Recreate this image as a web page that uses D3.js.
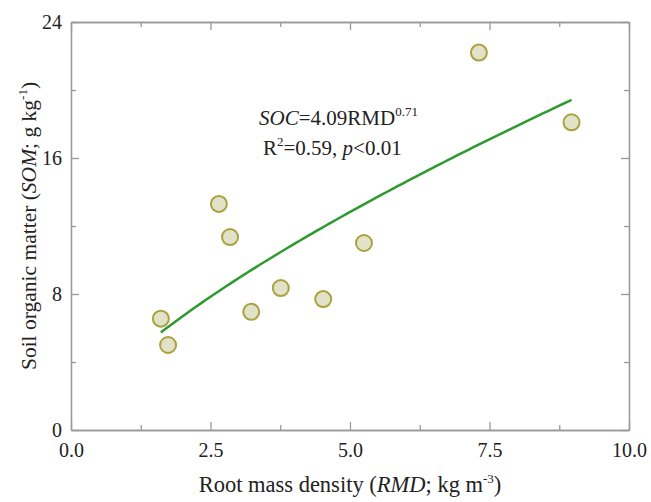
<!DOCTYPE html>
<html>
<head>
<meta charset="utf-8">
<script src="https://cdn.jsdelivr.net/npm/d3@7"></script>
<style>
  body { margin: 0; background: #fff; }
  svg text { font-family: "Liberation Serif", "DejaVu Serif", serif; fill: #222; }
  .axis path, .axis line { stroke: #999; stroke-width: 1.3; }
</style>
</head>
<body>
<svg id="chart" width="651" height="502"></svg>
<script>
// Observed data: root mass density vs soil organic matter
const rmd = [1.61, 1.74, 2.65, 2.85, 3.23, 3.76, 4.52, 5.25, 7.31, 8.97];
const som = [6.55, 5.0, 13.3, 11.35, 6.95, 8.35, 7.7, 11.0, 22.2, 18.1];

// Power fit SOC = a * RMD^b
const fitA = 4.09;
const fitB = 0.71;
const fitRange = [1.61, 8.97];

const xTicks = [0, 2.5, 5, 7.5, 10];
const xMinor = [1.25, 3.75, 6.25, 8.75];
const yTicks = [0, 8, 16, 24];
const yMinor = [4, 12, 20];

const svg = d3.select("#chart");
const margin = {top: 22, right: 22, bottom: 72, left: 71};
const width = +svg.attr("width") - margin.left - margin.right;
const height = +svg.attr("height") - margin.top - margin.bottom;

const g = svg.append("g")
    .attr("transform", "translate(" + margin.left + "," + margin.top + ")");

const x = d3.scaleLinear().domain([0, 10]).range([0, width]);
const y = d3.scaleLinear().domain([0, 24]).range([height, 0]);

// major axes (ticks inward)
g.append("g").attr("class", "axis")
    .attr("transform", "translate(0," + height + ")")
    .call(d3.axisBottom(x).tickValues(xTicks).tickSizeInner(-8).tickSizeOuter(0)
        .tickPadding(13).tickFormat(d3.format(".1f")));
g.append("g").attr("class", "axis")
    .call(d3.axisLeft(y).tickValues(yTicks).tickSizeInner(-8).tickSizeOuter(0)
        .tickPadding(9));
g.append("g").attr("class", "axis")
    .call(d3.axisTop(x).tickValues(xTicks).tickSizeInner(-8).tickSizeOuter(0).tickFormat(""));
g.append("g").attr("class", "axis")
    .attr("transform", "translate(" + width + ",0)")
    .call(d3.axisRight(y).tickValues(yTicks).tickSizeInner(-8).tickSizeOuter(0).tickFormat(""));

// minor ticks
g.append("g").attr("class", "axis")
    .attr("transform", "translate(0," + height + ")")
    .call(d3.axisBottom(x).tickValues(xMinor).tickSizeInner(-5).tickSizeOuter(0).tickFormat(""));
g.append("g").attr("class", "axis")
    .call(d3.axisTop(x).tickValues(xMinor).tickSizeInner(-5).tickSizeOuter(0).tickFormat(""));
g.append("g").attr("class", "axis")
    .call(d3.axisLeft(y).tickValues(yMinor).tickSizeInner(-5).tickSizeOuter(0).tickFormat(""));
g.append("g").attr("class", "axis")
    .attr("transform", "translate(" + width + ",0)")
    .call(d3.axisRight(y).tickValues(yMinor).tickSizeInner(-5).tickSizeOuter(0).tickFormat(""));

g.selectAll(".axis text").style("font-size", "20px").attr("fill", "#222");

// fitted curve
const fitX = d3.range(0, 101).map(i => fitRange[0] + (fitRange[1] - fitRange[0]) * i / 100);
const line = d3.line()
    .x(d => x(d))
    .y(d => y(fitA * Math.pow(d, fitB)));
g.append("path")
    .datum(fitX)
    .attr("d", line)
    .attr("fill", "none")
    .attr("stroke", "#2e9a2e")
    .attr("stroke-width", 2.5);

// points
g.selectAll(".dot")
    .data(rmd)
    .enter().append("circle")
    .attr("class", "dot")
    .attr("cx", d => x(d))
    .attr("cy", (d, i) => y(som[i]))
    .attr("r", 8)
    .attr("fill", "#e2e2c8")
    .attr("stroke", "#a9a23f")
    .attr("stroke-width", 2);

// equation
const eq1 = g.append("text")
    .attr("x", 188).attr("y", 103)
    .style("font-size", "21px");
eq1.append("tspan").style("font-style", "italic").text("SOC");
eq1.append("tspan").text("=4.09RMD");
eq1.append("tspan").attr("dy", -9).style("font-size", "13px").text("0.71");

const eq2 = g.append("text")
    .attr("x", 192).attr("y", 133)
    .style("font-size", "21px");
eq2.append("tspan").text("R");
eq2.append("tspan").attr("dy", -9).style("font-size", "13px").text("2");
eq2.append("tspan").attr("dy", 9).text("=0.59, ");
eq2.append("tspan").style("font-style", "italic").text("p");
eq2.append("tspan").text("<0.01");

// x title
const xt = svg.append("text")
    .attr("x", margin.left + width / 2).attr("y", 492)
    .attr("text-anchor", "middle")
    .style("font-size", "22.5px");
xt.append("tspan").text("Root mass density (");
xt.append("tspan").style("font-style", "italic").text("RMD");
xt.append("tspan").text("; kg m");
xt.append("tspan").attr("dy", -9).style("font-size", "13px").text("-3");
xt.append("tspan").attr("dy", 9).text(")");

// y title
const yt = svg.append("text")
    .attr("transform", "translate(36," + (margin.top + height / 2) + ") rotate(-90)")
    .attr("text-anchor", "middle")
    .style("font-size", "21.5px");
yt.append("tspan").text("Soil organic matter (");
yt.append("tspan").style("font-style", "italic").text("SOM");
yt.append("tspan").text("; g kg");
yt.append("tspan").attr("dy", -9).style("font-size", "13px").text("-1");
yt.append("tspan").attr("dy", 9).text(")");
</script>
</body>
</html>
